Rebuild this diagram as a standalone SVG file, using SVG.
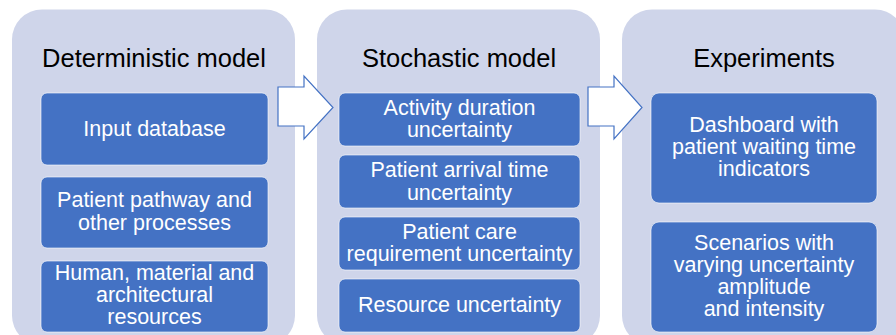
<svg xmlns="http://www.w3.org/2000/svg" width="896" height="335" viewBox="0 0 896 335">
<style>
.panel{fill:#CFD5EA;}
.box{fill:#4472C4;stroke:#FFFFFF;stroke-width:1;stroke-opacity:0.6;}
.title{font-family:"Liberation Sans",Arial,sans-serif;font-size:25.5px;fill:#000000;text-anchor:middle;}
.t{font-family:"Liberation Sans",Arial,sans-serif;font-size:21.5px;fill:#FFFFFF;text-anchor:middle;}
.arrow{fill:#FFFFFF;stroke:#4472C4;stroke-width:1.2;stroke-linejoin:miter;}
</style>
<rect width="896" height="335" fill="#FFFFFF"/>
<g id="panel-deterministic">
<rect class="panel" x="12" y="9.5" width="283" height="336" rx="30"/>
<text class="title" x="154" y="67">Deterministic model</text>
</g>
<g id="panel-stochastic">
<rect class="panel" x="317" y="9.5" width="283" height="336" rx="30"/>
<text class="title" x="459" y="67">Stochastic model</text>
</g>
<g id="panel-experiments">
<rect class="panel" x="622" y="9.5" width="283" height="336" rx="30"/>
<text class="title" x="764" y="67">Experiments</text>
</g>
<g id="connectors">
<polygon class="arrow" points="278,87 304,87 304,76 333,107.5 304,139 304,126 278,126"/>
<polygon class="arrow" points="588,87 614,87 614,76 642,107.5 614,139 614,126 588,126"/>
</g>
<g id="input-database">
<rect class="box" x="41" y="93" width="227" height="72" rx="6"/>
<text class="t" x="154.5" y="135.5">Input database</text>
</g>
<g id="patient-pathway">
<rect class="box" x="41" y="177" width="227" height="71" rx="6"/>
<text class="t" x="154.5" y="207">Patient pathway and</text>
<text class="t" x="154.5" y="230">other processes</text>
</g>
<g id="resources">
<rect class="box" x="41" y="261" width="227" height="71" rx="6"/>
<text class="t" x="154.5" y="279.5">Human, material and</text>
<text class="t" x="154.5" y="302">architectural</text>
<text class="t" x="154.5" y="324">resources</text>
</g>
<g id="activity-duration">
<rect class="box" x="339" y="93" width="241" height="53" rx="6"/>
<text class="t" x="459.5" y="115">Activity duration</text>
<text class="t" x="459.5" y="137">uncertainty</text>
</g>
<g id="arrival-time">
<rect class="box" x="339" y="155" width="241" height="53" rx="6"/>
<text class="t" x="459.5" y="177">Patient arrival time</text>
<text class="t" x="459.5" y="199.5">uncertainty</text>
</g>
<g id="care-requirement">
<rect class="box" x="339" y="217" width="241" height="53" rx="6"/>
<text class="t" x="459.5" y="238.5">Patient care</text>
<text class="t" x="459.5" y="260.5">requirement uncertainty</text>
</g>
<g id="resource-uncertainty">
<rect class="box" x="339" y="279" width="241" height="53" rx="6"/>
<text class="t" x="459.5" y="312">Resource uncertainty</text>
</g>
<g id="dashboard">
<rect class="box" x="651" y="93" width="226" height="110" rx="8"/>
<text class="t" x="764" y="132">Dashboard with</text>
<text class="t" x="764" y="154">patient waiting time</text>
<text class="t" x="764" y="176">indicators</text>
</g>
<g id="scenarios">
<rect class="box" x="651" y="222" width="226" height="110" rx="8"/>
<text class="t" x="764" y="250">Scenarios with</text>
<text class="t" x="764" y="272">varying uncertainty</text>
<text class="t" x="764" y="294">amplitude</text>
<text class="t" x="764" y="316">and intensity</text>
</g>
</svg>
